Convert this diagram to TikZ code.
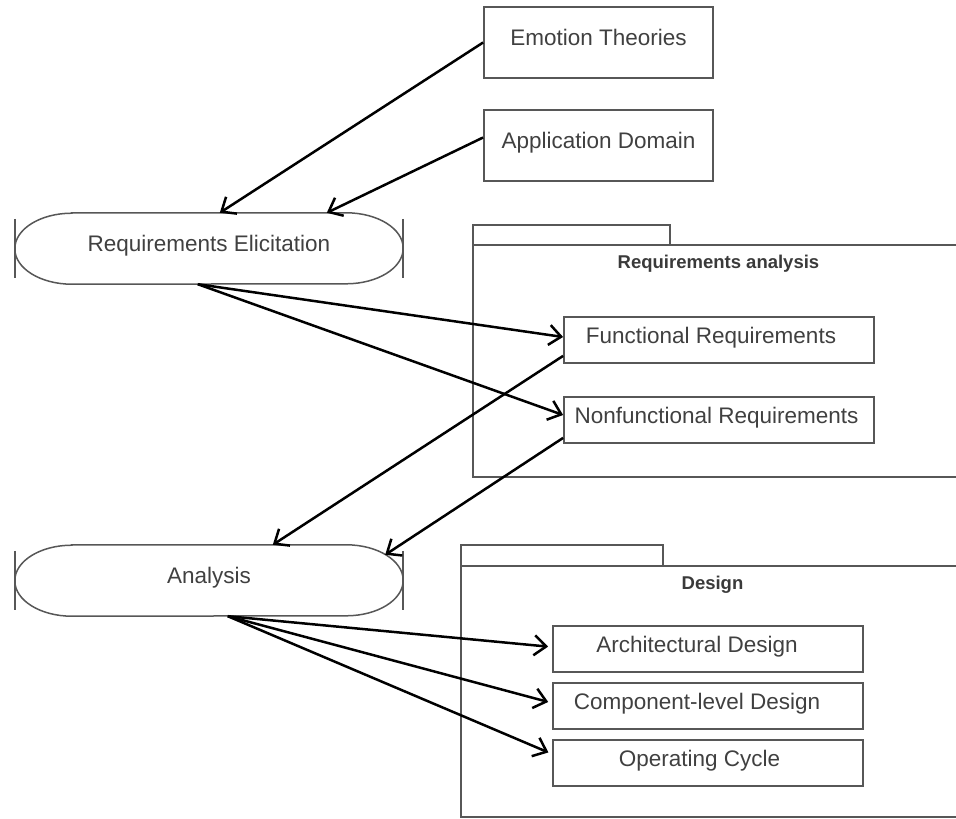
\documentclass[tikz,border=0pt]{standalone}
\usepackage{fontspec}
\setmainfont{Liberation Sans}
\usetikzlibrary{arrows.meta,calc}
\definecolor{inkgray}{HTML}{404040}
\definecolor{edgegray}{HTML}{575757}
\tikzset{
  labelfont/.style={text=inkgray, font=\fontsize{22.5}{26}\selectfont, text height=16.5pt, text depth=10.4pt},
  box/.style={labelfont, draw=edgegray, line width=1.8pt, minimum height=46pt, inner sep=0pt},
  srcbox/.style={box, minimum width=229pt, minimum height=71pt},
  itembox/.style={box, minimum width=310pt},
  stadiumnode/.style={labelfont, minimum width=388pt, minimum height=71pt, inner sep=0pt},
  outline/.style={draw=edgegray, line width=1.5pt},
  pkgline/.style={draw=edgegray, line width=1.8pt},
  pkgtitle/.style={text=inkgray!90!black, font=\bfseries\fontsize{18.5}{22}\selectfont},
  flow/.style={draw=black, line width=2.5pt, -{Straight Barb[length=12pt,width=20pt,line width=2.5pt]}},
}
% Use-case style outline: elliptic ends touching the two end bars
\newcommand\usecaseoutline[1]{%
  \draw[outline] ($(#1.north west)+(57,0)$) -- ($(#1.north east)+(-57,0)$)
    arc[start angle=-90,end angle=90,x radius=57,y radius=35.5]
    -- ($(#1.south west)+(57,0)$)
    arc[start angle=90,end angle=270,x radius=57,y radius=35.5] -- cycle;
  \draw[outline] ($(#1.north west)+(0,6)$) -- ($(#1.south west)+(0,-6)$);
  \draw[outline] ($(#1.north east)+(0,6)$) -- ($(#1.south east)+(0,-6)$);
}
\begin{document}
\begin{tikzpicture}[x=1pt,y=-1pt]
  \useasboundingbox (0,0) rectangle (956,819);

  % package frames (open on the right)
  \draw[pkgline] (473,245) -- (473,225) -- (670,225) -- (670,245);
  \draw[pkgline] (960,245) -- (473,245) -- (473,477) -- (960,477);
  \node[pkgtitle] (ratitle) at (718.5,264) {Requirements analysis};

  \draw[pkgline] (461,566) -- (461,545) -- (663,545) -- (663,566);
  \draw[pkgline] (960,566) -- (461,566) -- (461,817) -- (960,817);
  \node[pkgtitle] (dtitle) at (712.5,585) {Design};

  % sources
  \node[srcbox] (et) at (598.5,42.5) {Emotion Theories};
  \node[srcbox] (ad) at (598.5,145.5) {Application Domain};

  % activities
  \node[stadiumnode] (re) at (209,248.5) {Requirements Elicitation};
  \usecaseoutline{re}
  \node[stadiumnode] (an) at (209,580.5) {Analysis};
  \usecaseoutline{an}

  % requirement artefacts
  \node[itembox] (fr) at (719,340) {Functional Requirements\hspace*{16pt}};
  \node[itembox] (nf) at (719,420) {Nonfunctional Requirements\hspace*{5pt}};

  % design artefacts
  \node[itembox] (arch) at (708,649) {Architectural Design\hspace*{22pt}};
  \node[itembox] (comp) at (708,706) {Component-level Design\hspace*{22pt}};
  \node[itembox] (op) at (708,763) {Operating Cycle\hspace*{17pt}};

  % connectors
  \draw[flow] (et.west) -- ($(re.north west)+(205,0)$);
  \draw[flow] ($(ad.west)+(0,-8)$) -- ($(re.north west)+(312,0)$);
  \draw[flow] ($(re.south west)+(183,0)$) -- ($(fr.west)+(0,-3)$);
  \draw[flow] ($(re.south west)+(183,0)$) -- ($(nf.west)+(0,-5)$);
  \draw[flow] ($(fr.south west)+(0,-8)$) -- ($(an.north west)+(258,0)$);
  \draw[flow] ($(nf.south west)+(0,-6)$) -- ($(an.north east)+(-18,10)$);
  \draw[flow, shorten >=4pt] ($(an.south west)+(213,0)$) -- ($(arch.west)+(0,-2)$);
  \draw[flow, shorten >=4pt] ($(an.south west)+(213,0)$) -- ($(comp.west)+(0,-3)$);
  \draw[flow, shorten >=4pt] ($(an.south west)+(213,0)$) -- ($(op.west)+(0,-9)$);
\end{tikzpicture}
\end{document}
